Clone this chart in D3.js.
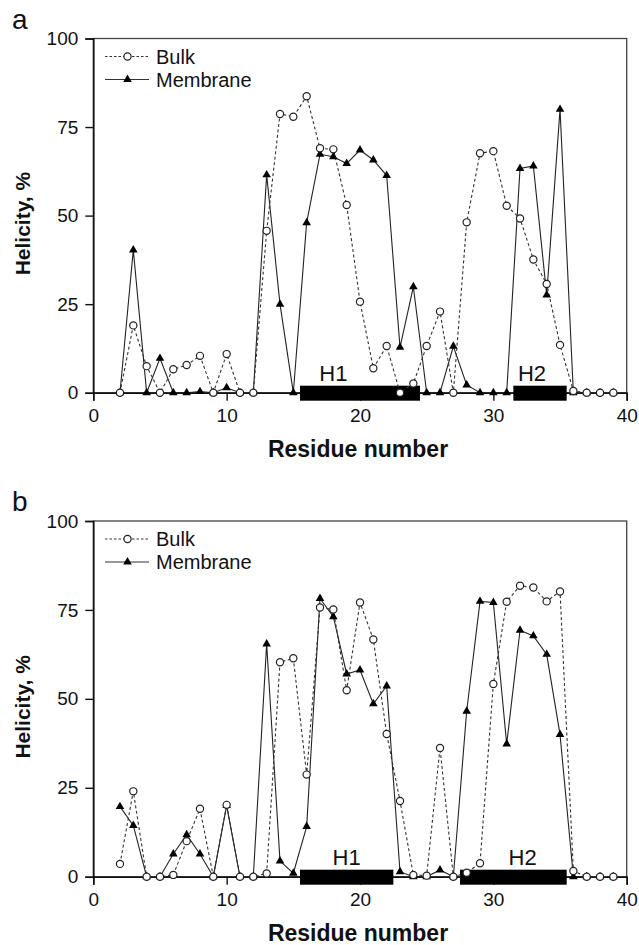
<!DOCTYPE html>
<html>
<head>
<meta charset="utf-8">
<script src="https://cdn.jsdelivr.net/npm/d3@7"></script>
<style>
  body { margin: 0; background: #fff; }
  text { font-family: "Liberation Sans", Arial, sans-serif; fill: #111; }
</style>
</head>
<body>
<div id="chart"></div>
<script>
// residue numbers shared by both panels
const residues = [2,3,4,5,6,7,8,9,10,11,12,13,14,15,16,17,18,19,20,
                  21,22,23,24,25,26,27,28,29,30,31,32,33,34,35,36,37,38,39];

// panel a
const bulkA = [0,19,7.5,0,6.6,7.8,10.4,0,10.9,0,0,45.7,78.7,77.9,83.7,69,68.7,53,25.7,
               6.9,13.2,0,2.6,13.2,22.9,0,48.1,67.6,68.2,52.8,49.2,37.6,30.7,13.5,0.5,0,0,0];
const membraneA = [0,40.3,0,9.7,0,0,0.3,0,1.4,0,0,61.5,25,0,48,67.3,66.6,64.7,68.5,
                   65.7,61.3,12.8,29.9,0,0,13.1,2.2,0,0,0,63.3,64,27.6,80,0,0,0,0];
const helixA = [{name: "H1", start: 15.5, end: 24.5, label: 18},
                {name: "H2", start: 31.5, end: 35.5, label: 32.9}];

// panel b
const bulkB = [3.6,24,0,0,0.5,10,19.1,0,20.2,0,0,0.9,60.3,61.4,28.7,75.7,75.1,52.4,77.1,
               66.7,40.1,21.3,0.5,0.3,36.2,0,1.1,3.8,54.2,77.3,81.8,81.3,77.4,80.2,1.6,0,0,0];
const membraneB = [19.7,14.4,0,0,6.4,11.8,6.4,0,20,0,0,65.4,4.4,1,14.1,78.2,73.1,57,58.1,
                   48.6,53.6,1.4,0,0,1.9,0,46.5,77.4,77.1,37.3,69.3,67.7,62.5,40,0,0,0,0];
const helixB = [{name: "H1", start: 15.5, end: 22.5, label: 19},
                {name: "H2", start: 27.5, end: 35.5, label: 32.2}];

const xTicks = [0, 10, 20, 30, 40];
const yTicks = [0, 25, 50, 75, 100];
const seriesNames = ["Bulk", "Membrane"];

const svg = d3.select("#chart").append("svg")
    .attr("width", 639)
    .attr("height", 945);

const x = d3.scaleLinear().domain([0, 40]).range([93.3, 626.7]);

function drawPanel(props) {
    const y = d3.scaleLinear().domain([0, 100]).range([props.bottom, props.top]);
    const g = svg.append("g");

    // frame
    g.append("rect")
        .attr("x", x(0)).attr("y", y(100))
        .attr("width", x(40) - x(0)).attr("height", y(0) - y(100))
        .attr("fill", "none").attr("stroke", "#444").attr("stroke-width", 1.3);

    // y axis
    const yAxis = g.append("g")
        .attr("transform", `translate(${x(0)},0)`)
        .call(d3.axisLeft(y).tickValues(yTicks).tickSize(8).tickPadding(7));
    yAxis.select(".domain").attr("stroke", "#111").attr("stroke-width", 1.6);
    yAxis.selectAll(".tick line").attr("stroke", "#111").attr("stroke-width", 1.4);
    yAxis.selectAll(".tick text")
        .style("font-family", '"Liberation Sans", Arial, sans-serif')
        .style("font-size", "19px").attr("fill", "#111");

    // x axis
    const xAxis = g.append("g")
        .attr("transform", `translate(0,${y(0)})`)
        .call(d3.axisBottom(x).tickValues(xTicks).tickSize(8).tickPadding(8));
    xAxis.select(".domain").attr("stroke", "#111").attr("stroke-width", 1.6);
    xAxis.selectAll(".tick line").attr("stroke", "#111").attr("stroke-width", 1.4);
    xAxis.selectAll(".tick text")
        .style("font-family", '"Liberation Sans", Arial, sans-serif')
        .style("font-size", "19px").attr("fill", "#111");

    // axis titles
    g.append("text")
        .attr("x", (x(0) + x(40)) / 2 - 2)
        .attr("y", y(0) + 64)
        .attr("text-anchor", "middle")
        .style("font-size", "23px").style("font-weight", "bold")
        .text("Residue number");
    g.append("text")
        .attr("transform", `translate(30,${(y(0) + y(100)) / 2 + 8}) rotate(-90)`)
        .attr("text-anchor", "middle")
        .style("font-size", "21px").style("font-weight", "bold")
        .text("Helicity, %");

    // panel letter
    g.append("text")
        .attr("x", 12).attr("y", y(100) - 10)
        .style("font-size", "28px")
        .text(props.letter);

    // helix bars
    g.selectAll(".helix")
        .data(props.helix)
        .join("rect")
        .attr("x", d => x(d.start))
        .attr("y", y(0) - 7)
        .attr("width", d => x(d.end) - x(d.start))
        .attr("height", 15)
        .attr("fill", "#000");
    g.selectAll(".helixLabel")
        .data(props.helix)
        .join("text")
        .attr("x", d => x(d.label))
        .attr("y", y(0) - 12)
        .attr("text-anchor", "middle")
        .style("font-size", "22px")
        .text(d => d.name);

    const line = d3.line().x(d => x(d[0])).y(d => y(d[1]));
    const bulk = residues.map((r, i) => [r, props.bulk[i]]);
    const memb = residues.map((r, i) => [r, props.membrane[i]]);

    g.append("path").datum(memb)
        .attr("d", line).attr("fill", "none")
        .attr("stroke", "#222").attr("stroke-width", 1.1);
    g.append("path").datum(bulk)
        .attr("d", line).attr("fill", "none")
        .attr("stroke", "#333").attr("stroke-width", 1.1)
        .attr("stroke-dasharray", "3,2.5");

    const tri = d3.symbol().type(d3.symbolTriangle).size(32);
    g.selectAll(".memb")
        .data(memb)
        .join("path")
        .attr("transform", d => `translate(${x(d[0])},${y(d[1])})`)
        .attr("d", tri)
        .attr("fill", "#000");
    g.selectAll(".bulk")
        .data(bulk)
        .join("circle")
        .attr("cx", d => x(d[0]))
        .attr("cy", d => y(d[1]))
        .attr("r", 3.6)
        .attr("fill", "#fff")
        .attr("stroke", "#222")
        .attr("stroke-width", 1.2);

    // legend
    const lg = g.append("g");
    seriesNames.forEach(function (name, i) {
        const ly = y(100) + 18 + i * 23;
        lg.append("line")
            .attr("x1", 105).attr("x2", 149)
            .attr("y1", ly).attr("y2", ly)
            .attr("stroke", "#333").attr("stroke-width", 1.1)
            .attr("stroke-dasharray", i === 0 ? "2.5,2" : null);
        if (i === 0) {
            lg.append("circle").attr("cx", 127.5).attr("cy", ly).attr("r", 3.6)
                .attr("fill", "#fff").attr("stroke", "#222").attr("stroke-width", 1.2);
        } else {
            lg.append("path").attr("transform", `translate(127.5,${ly})`)
                .attr("d", tri).attr("fill", "#000");
        }
        lg.append("text")
            .attr("x", 156).attr("y", ly + 7)
            .style("font-size", "20px")
            .text(name);
    });
}

drawPanel({letter: "a", top: 38.5, bottom: 392.7,
           bulk: bulkA, membrane: membraneA, helix: helixA});
drawPanel({letter: "b", top: 521, bottom: 876.7,
           bulk: bulkB, membrane: membraneB, helix: helixB});
</script>
</body>
</html>
